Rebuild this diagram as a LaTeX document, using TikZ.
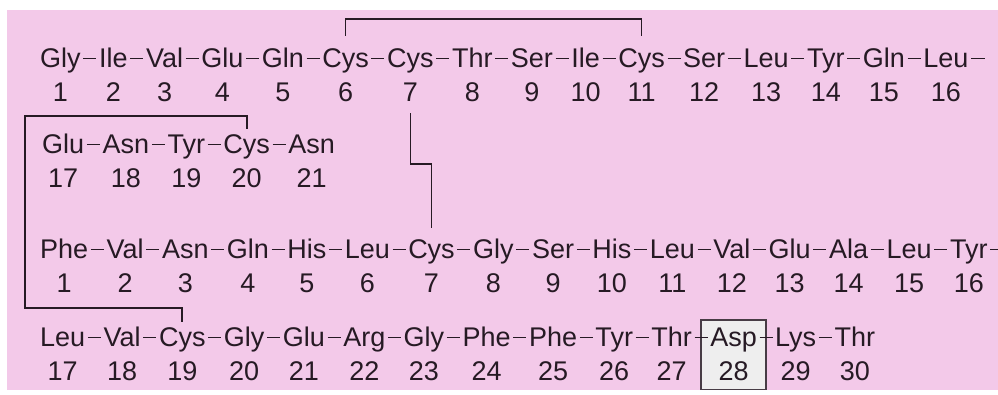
\documentclass[tikz,border=0pt]{standalone}
\usepackage{fontspec}
\setmainfont{Liberation Sans}
\usetikzlibrary{positioning, fit, backgrounds}

\definecolor{pinkbg}{RGB}{243,201,233}
\definecolor{inkdark}{RGB}{38,26,36}
\definecolor{boxgray}{RGB}{238,238,238}

\begin{document}
\begin{tikzpicture}[
    x=1pt, y=-1pt,
    node distance=18pt, % gap between residues
    % Styles for residues, numbers and bonds
    res/.style={inner sep=0pt, text height=20pt, text depth=3pt, font=\fontsize{27}{32}\selectfont, text=inkdark},
    num/.style={res, anchor=base},
    pep/.style={draw=inkdark, line width=1.3pt, shorten <=2.5pt, shorten >=2.5pt},
    ss/.style={draw=inkdark, line width=1.8pt},
    aspbox/.style={draw=inkdark!85, fill=boxgray, line width=1.4pt, inner xsep=9pt, inner ysep=6pt}
]
    \useasboundingbox (0,0) rectangle (998,394);
    \begin{scope}[on background layer]
        \fill[pinkbg] (7,10) rectangle (998,390);
    \end{scope}

    % A chain, residues 1-16 and 17-21
    \node[res, anchor=base west] (a1) at (40,67) {Gly};
    \foreach \aa [count=\i from 2, remember=\i as \j (initially 1)] in {Ile,Val,Glu,Gln,Cys,Cys,Thr,Ser,Ile,Cys,Ser,Leu,Tyr,Gln,Leu}
        \node[res, base right=of a\j] (a\i) {\aa};
    \node[res, anchor=base west] (a17) at (42,153) {Glu};
    \foreach \aa [count=\i from 18, remember=\i as \j (initially 17)] in {Asn,Tyr,Cys,Asn}
        \node[res, base right=of a\j] (a\i) {\aa};

    % B chain, residues 1-16 and 17-30
    \node[res, anchor=base west] (b1) at (40,258) {Phe};
    \foreach \aa [count=\i from 2, remember=\i as \j (initially 1)] in {Val,Asn,Gln,His,Leu,Cys,Gly,Ser,His,Leu,Val,Glu,Ala,Leu,Tyr}
        \node[res, base right=of b\j] (b\i) {\aa};
    \node[res, anchor=base west] (b17) at (40,346) {Leu};
    \foreach \aa [count=\i from 18, remember=\i as \j (initially 17)] in {Val,Cys,Gly,Glu,Arg,Gly,Phe,Phe,Tyr,Thr,Asp,Lys,Thr}
        \node[res, base right=of b\j] (b\i) {\aa};

    % Position numbers
    \foreach \i in {1,...,21}
        \node[num] (na\i) at ([yshift=-34pt]a\i.base) {\i};
    \foreach \i in {1,...,30}
        \node[num] (nb\i) at ([yshift=-34pt]b\i.base) {\i};

    % Peptide bonds
    \foreach \i [count=\j from 2] in {1,...,15}
        \draw[pep] (a\i) -- (a\j);
    \foreach \i [count=\j from 18] in {17,...,20}
        \draw[pep] (a\i) -- (a\j);
    \foreach \i [count=\j from 2] in {1,...,15}
        \draw[pep] (b\i) -- (b\j);
    \foreach \i [count=\j from 18] in {17,...,29}
        \draw[pep] (b\i) -- (b\j);
    \coordinate[right=16pt of a16] (a-cut);
    \coordinate[right=16pt of b16] (b-cut);
    \draw[pep, shorten >=0pt] (a16) -- (a-cut);
    \draw[pep, shorten >=0pt] (b16) -- (b-cut);

    % Disulfide bridges
    \coordinate (ss-left) at (25,200);
    \draw[ss] ([yshift=11pt]a6.north) |- ([yshift=28pt]a11.north) -- ([yshift=11pt]a11.north);
    \draw[ss] ([yshift=-12pt]na7.base) -- ++(0,-51pt) -| ([yshift=10pt]b7.north);
    \draw[ss] ([yshift=4pt]a20.north) -- ([yshift=17pt]a20.north) -| (ss-left) |- ([yshift=18pt]b19.north) -- ([yshift=4pt]b19.north);

    % Highlighted residue
    \begin{scope}[on background layer]
        \node[aspbox, fit=(b28)(nb28)] (asp) {};
    \end{scope}
\end{tikzpicture}
\end{document}
